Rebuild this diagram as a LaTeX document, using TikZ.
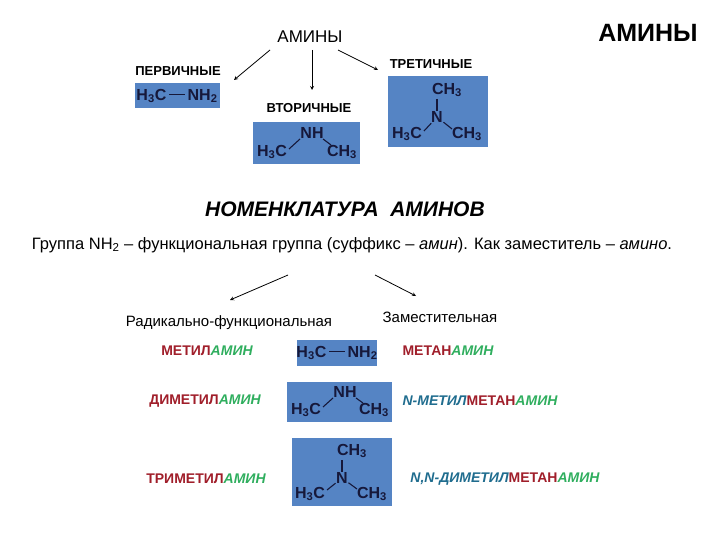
\documentclass[tikz,border=0pt]{standalone}
\usepackage{fontspec}
\setmainfont{Liberation Sans}
\definecolor{boxb}{HTML}{5584C4}
\definecolor{ink}{HTML}{16183A}
\definecolor{rd}{HTML}{A01E2A}
\definecolor{gr}{HTML}{2FAE5E}
\definecolor{tl}{HTML}{1F6C8E}
\begin{document}
\begin{tikzpicture}[x=1pt,y=-1pt,
  box/.style={fill=boxb,draw=none},
  mol/.style={font=\fontsize{16}{16}\selectfont\bfseries,text=ink,inner sep=0.5pt},
  bond/.style={ink,line width=1.1pt},
  lbl/.style={font=\fontsize{13}{13}\selectfont\bfseries},
  arr/.style={-stealth,line width=0.8pt},
  nm/.style={font=\fontsize{14}{14}\selectfont\bfseries}]
\useasboundingbox (0,0) rectangle (720,540);
% titles
\node[font=\fontsize{25}{25}\selectfont\bfseries] (ttl) at (648,33) {АМИНЫ};
\node[font=\fontsize{17}{17}\selectfont] (am) at (310,37) {АМИНЫ};
\node[lbl] (p1) at (178,71) {ПЕРВИЧНЫЕ};
\node[lbl] (p2) at (309,108) {ВТОРИЧНЫЕ};
\node[lbl] (p3) at (431,64) {ТРЕТИЧНЫЕ};
\coordinate (a1) at (234,80); \coordinate (a2) at (312,90); \coordinate (a3) at (378,70);
\draw[arr] (270,50) -- (a1);
\draw[arr] (312,50) -- (a2);
\draw[arr] (338,50) -- (a3);
% primary box
\fill[box] (135,83) rectangle (220,108);
\node[mol] (m1) at (177,96) {H\textsubscript{3}C\,\rule[0.33em]{1.0em}{1.1pt}\,NH\textsubscript{2}};
% secondary
\fill[box] (253,122) rectangle (360,164);
\node[mol] (s1) at (312,133) {NH};
\node[mol] (s2) at (272,152) {H\textsubscript{3}C};
\node[mol] (s3) at (342,152) {CH\textsubscript{3}};
\draw[bond] (289,149) -- (300,139); \draw[bond] (323,139) -- (331,145);
% tertiary
\fill[box] (388,76) rectangle (488,147);
\node[mol] (t0) at (447,90) {CH\textsubscript{3}};
\node[mol] (t1) at (437,117) {N};
\node[mol] (t2) at (407,134) {H\textsubscript{3}C};
\node[mol] (t3) at (467,134) {CH\textsubscript{3}};
\draw[bond] (437,99) -- (t1); \draw[bond] (424,131) -- (t1); \draw[bond] (t1) -- (452,129);
% nomenclature
\node[font=\fontsize{21}{21}\selectfont\bfseries\itshape] (nom) at (345,209) {НОМЕНКЛАТУРА\ \ АМИНОВ};
\node[font=\fontsize{16.5}{17}\selectfont] (grp) at (352,245) {Группа NH\textsubscript{2} – функциональная группа (суффикс – \textit{амин}). Как заместитель – \textit{амино}.};
\coordinate (b1) at (230,300); \coordinate (b2) at (416,296);
\draw[arr] (288,275) -- (b1);
\draw[arr] (375,275) -- (b2);
\node[font=\fontsize{15}{15}\selectfont] (rf) at (229,323) {Радикально-функциональная};
\node[font=\fontsize{15}{15}\selectfont] (zm) at (440,317) {Заместительная};
% row 1
\fill[box] (297,340) rectangle (377,366);
\node[mol] (r1) at (337,353) {H\textsubscript{3}C\,\rule[0.33em]{1.0em}{1.1pt}\,NH\textsubscript{2}};
\node[nm] (n1) at (207,351) {\textcolor{rd}{МЕТИЛ}\textcolor{gr}{\itshape АМИН}};
\node[nm] (n2) at (448,351) {\textcolor{rd}{МЕТАН}\textcolor{gr}{\itshape АМИН}};
% row 2
\fill[box] (287,382) rectangle (392,422);
\node[mol] (q1) at (345,392) {NH};
\node[mol] (q2) at (306,410) {H\textsubscript{3}C};
\node[mol] (q3) at (374,410) {CH\textsubscript{3}};
\draw[bond] (323,407) -- (333,398); \draw[bond] (356,398) -- (363,403);
\node[nm] (n3) at (205,401) {\textcolor{rd}{ДИМЕТИЛ}\textcolor{gr}{\itshape АМИН}};
\node[nm] (n4) at (480,401) {\textcolor{tl}{\itshape N-МЕТИЛ}\textcolor{rd}{МЕТАН}\textcolor{gr}{\itshape АМИН}};
% row 3
\fill[box] (292,438) rectangle (392,506);
\node[mol] (u0) at (352,451) {CH\textsubscript{3}};
\node[mol] (u1) at (342,478) {N};
\node[mol] (u2) at (310,494) {H\textsubscript{3}C};
\node[mol] (u3) at (372,494) {CH\textsubscript{3}};
\draw[bond] (342,460) -- (u1); \draw[bond] (327,490) -- (u1); \draw[bond] (u1) -- (357,489);
\node[nm] (n5) at (206,479) {\textcolor{rd}{ТРИМЕТИЛ}\textcolor{gr}{\itshape АМИН}};
\node[nm] (n6) at (505,479) {\textcolor{tl}{\itshape N,N-ДИМЕТИЛ}\textcolor{rd}{МЕТАН}\textcolor{gr}{\itshape АМИН}};
\end{tikzpicture}
\end{document}
